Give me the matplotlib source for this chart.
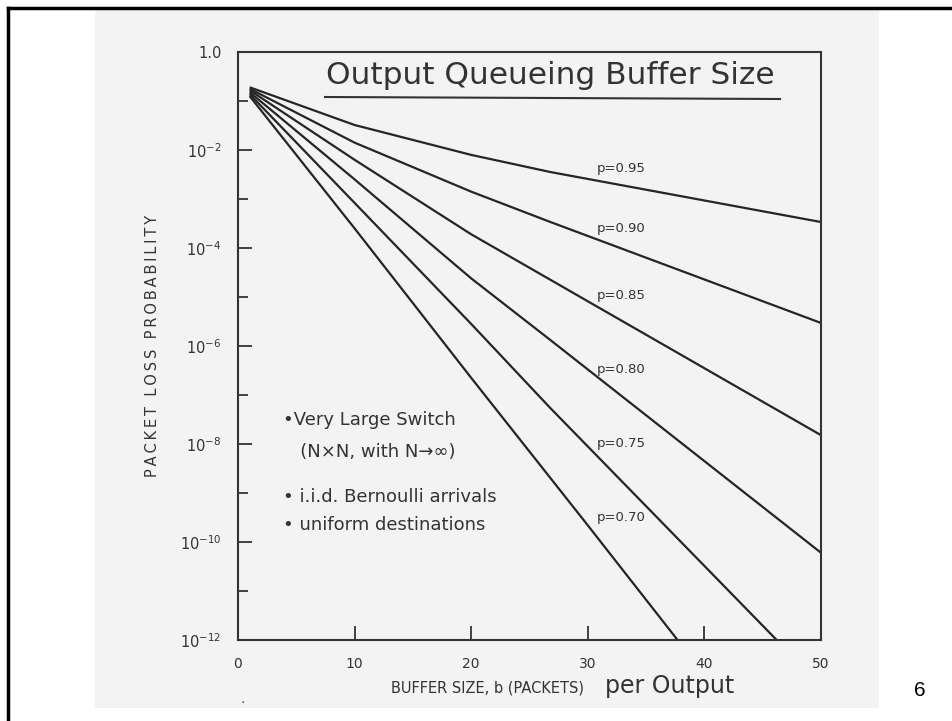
import numpy as np
import matplotlib
matplotlib.use("Agg")
import matplotlib.pyplot as plt
from matplotlib.patches import Rectangle
from matplotlib.lines import Line2D
from matplotlib.ticker import FixedLocator, NullFormatter

# curves: buffer size b and -log10(loss probability)
loads = ["0.95", "0.90", "0.85", "0.80", "0.75", "0.70"]
b_pts = {
    "0.95": [1, 10, 20, 26.8, 50],
    "0.90": [1, 10, 20, 26.8, 50],
    "0.85": [1, 10, 20, 26.8, 50],
    "0.80": [1, 10, 20, 26.8, 50],
    "0.75": [1, 10, 20, 26.8, 46.2],
    "0.70": [1, 10, 20, 30, 37.7],
}
neg_exp = {
    "0.95": [0.72, 1.49, 2.10, 2.45, 3.47],
    "0.90": [0.75, 1.85, 2.85, 3.47, 5.53],
    "0.85": [0.78, 2.20, 3.72, 4.65, 7.82],
    "0.80": [0.82, 2.60, 4.62, 5.88, 10.22],
    "0.75": [0.86, 3.08, 5.55, 7.27, 12.0],
    "0.70": [0.90, 3.60, 6.65, 9.66, 12.0],
}
# label positions (b, -log10 P)
label_b = 30.8
label_exp = [2.37, 3.61, 4.96, 6.47, 7.98, 9.51]

xticks = [0, 10, 20, 30, 40, 50]
ymajor = [1.0, 1e-2, 1e-4, 1e-6, 1e-8, 1e-10, 1e-12]
ymajor_labels = ["1.0", "$10^{-2}$", "$10^{-4}$", "$10^{-6}$", "$10^{-8}$",
                 "$10^{-10}$", "$10^{-12}$"]
yminor = [1e-1, 1e-3, 1e-5, 1e-7, 1e-9, 1e-11]

W, H = 952, 721
fig = plt.figure(figsize=(W / 100, H / 100), dpi=100)
fig.patch.set_facecolor("white")

# scanned paper and slide frame
fig.patches.append(Rectangle((95 / W, 1 - 708 / H), (879 - 95) / W, (708 - 10) / H,
                             transform=fig.transFigure, facecolor="#f3f3f3",
                             edgecolor="none", zorder=-5))
fig.lines.append(Line2D([8 / W, 8 / W], [0, 1 - 8 / H], transform=fig.transFigure,
                        color="black", lw=2.5))
fig.lines.append(Line2D([8 / W, 1], [1 - 8 / H, 1 - 8 / H], transform=fig.transFigure,
                        color="black", lw=2.5))

ink = "#252525"
ax = fig.add_axes([238 / W, 1 - 640 / H, (821 - 238) / W, (640 - 52) / H])
ax.set_zorder(2)
ax.set_facecolor("none")
ax.set_yscale("log")
ax.set_xlim(0, 50)
ax.set_ylim(1e-12, 1.0)

for p in loads:
    ax.plot(b_pts[p], 10.0 ** (-np.array(neg_exp[p])), color=ink, lw=1.6,
            solid_capstyle="butt")

for p, e in zip(loads, label_exp):
    ax.text(label_b, 10.0 ** (-e), "p=" + p, fontsize=9.5, color="#333333",
            va="center", ha="left")

for s in ax.spines.values():
    s.set_color("#333333")
    s.set_linewidth(1.5)

ax.set_xticks(xticks)
ax.set_xticklabels([str(t) for t in xticks])
ax.yaxis.set_major_locator(FixedLocator(ymajor))
ax.set_yticklabels(ymajor_labels)
ax.yaxis.set_minor_locator(FixedLocator(yminor))
ax.yaxis.set_minor_formatter(NullFormatter())
ax.tick_params(axis="both", which="major", direction="in", length=10, width=1.3,
               color="#333333", labelcolor="#333333", labelsize=10)
ax.tick_params(axis="x", which="major", pad=12)
ax.tick_params(axis="y", which="major", pad=12, labelsize=10.5)
ax.tick_params(axis="y", which="minor", direction="in", length=7.5, width=1.3,
               color="#333333")

ax.set_ylabel("\u2009".join("PACKET LOSS PROBABILITY"), fontsize=10.5,
              color="#333333", labelpad=14)

# handwritten title with underline
fig.text(550 / W, 1 - 75 / H, "Output Queueing Buffer Size", fontsize=22.5,
         color="#333333", ha="center", va="center")
fig.lines.append(Line2D([325 / W, 780 / W], [1 - 97 / H, 1 - 99 / H],
                        transform=fig.transFigure, color="#333333", lw=1.5))

# bullet notes
notes = ["\u2022Very Large Switch", "   (N\u00d7N, with N\u2192\u221e)",
         "\u2022 i.i.d. Bernoulli arrivals", "\u2022 uniform destinations"]
note_y = [420, 452, 497, 525]
for t, y in zip(notes, note_y):
    fig.text(283 / W, 1 - y / H, t, fontsize=13, color="#333333",
             ha="left", va="center")

fig.text(488 / W, 1 - 688 / H, "BUFFER SIZE, b (PACKETS)", fontsize=10.5,
         color="#333333", ha="center", va="center")
fig.text(605 / W, 1 - 686 / H, "per Output", fontsize=17, color="#333333",
         ha="left", va="center")
fig.text(243 / W, 1 - 703 / H, ".", fontsize=10, color="#555555", ha="center")

fig.text(920 / W, 1 - 690 / H, "6", fontsize=15, color="black",
         family="Liberation Sans", ha="center", va="center")

fig.savefig("out.png", dpi=100)
